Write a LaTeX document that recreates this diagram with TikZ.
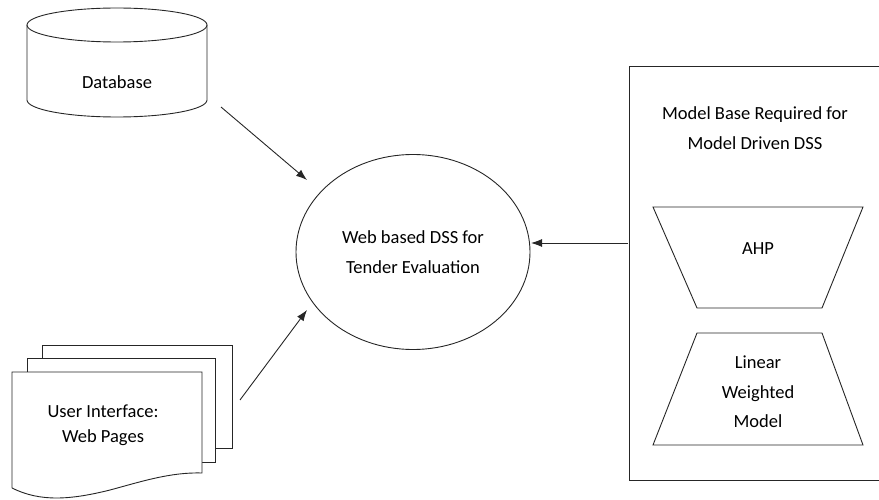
\documentclass[tikz,border=0pt]{standalone}
\usepackage{fontspec}
\setmainfont{Carlito}
\usetikzlibrary{arrows.meta,shapes.geometric}
\begin{document}
\begin{tikzpicture}[x=1pt,y=-1pt,line width=0.9pt,
  arr/.style={-{Latex[length=11pt,width=8pt]}},
  lbl/.style={align=center,font=\fontsize{18.5}{29.5}\selectfont},
  line/.style={draw=black!85}]
\useasboundingbox (0,0) rectangle (879,500);
% database cylinder
\draw[line] (27,25) -- (27,100) arc[start angle=180,end angle=0,x radius=90,y radius=17] -- (207,25);
\draw[line] (117,25) ellipse [x radius=90,y radius=17];
\node[lbl] (db) at (117,82) {Database};
% user interface pages
\draw[line] (42,358) -- (42,345) -- (232,345) -- (232,448) -- (215,448);
\draw[line,fill=white] (27,372) -- (27,358) -- (215,358) -- (215,462) -- (202,462);
\draw[line,fill=white] (12,488) -- (12,372) -- (202,372) -- (202,473)
  .. controls (170,472) and (140,482) .. (110,490)
  .. controls (70,500) and (40,502) .. (12,488);
\node[lbl,font=\fontsize{18.5}{25}\selectfont] (ui) at (103,425) {User Interface:\\Web Pages};
% central ellipse
\node[line,draw,ellipse,minimum width=234,minimum height=195,inner sep=0pt,lbl] (dss) at (413,252) {Web based DSS for\\Tender Evaluation};
% model base box
\draw[line] (884,66) -- (629,66) -- (629,480) -- (884,480) -- cycle;
\node[lbl] (mbt) at (755,128) {Model Base Required for\\Model Driven DSS};
\draw[line] (653,207) -- (863,207) -- (822,308) -- (697,308) -- cycle;
\node[lbl] (ahp) at (758,249) {AHP};
\draw[line] (697,333) -- (822,333) -- (863,445) -- (653,445) -- cycle;
\node[lbl] (lwm) at (758,392) {Linear\\Weighted\\Model};
% connectors
\coordinate (dbout) at (221,107);
\coordinate (dbin) at (307,180);
\coordinate (uiout) at (240,400);
\coordinate (uiin) at (307,310);
\coordinate (mbout) at (628,243);
\coordinate (mbin) at (531,243);
\draw[line,arr] (dbout) -- (dbin);
\draw[line,arr] (uiout) -- (uiin);
\draw[line,arr] (mbout) -- (mbin);
\end{tikzpicture}
\end{document}
